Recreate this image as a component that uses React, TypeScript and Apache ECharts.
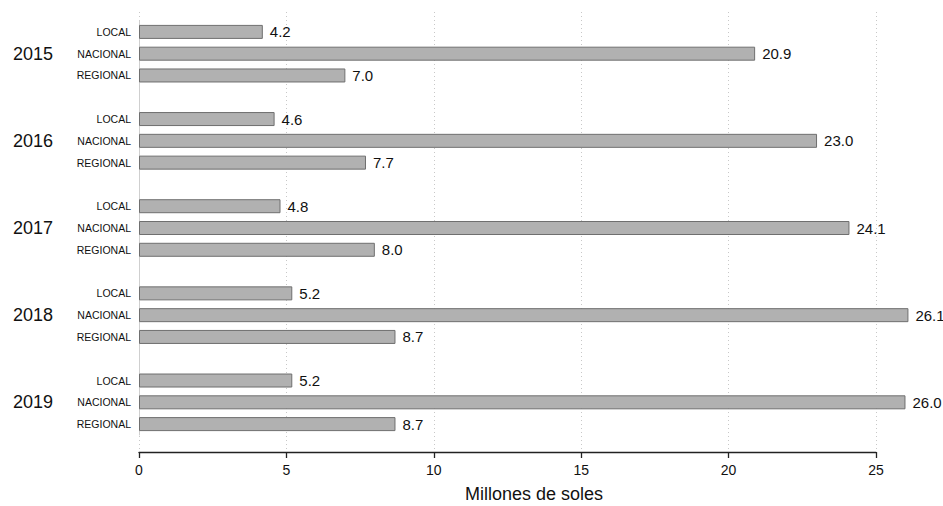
import React, { useEffect, useRef } from "react";
import * as echarts from "echarts";

const years = ["2015", "2016", "2017", "2018", "2019"];
const levels = ["LOCAL", "NACIONAL", "REGIONAL"];
const localValues = [4.2, 4.6, 4.8, 5.2, 5.2];
const nacionalValues = [20.9, 23.0, 24.1, 26.1, 26.0];
const regionalValues = [7.0, 7.7, 8.0, 8.7, 8.7];
const xTickValues = [0, 5, 10, 15, 20, 25];
const axisTitle = "Millones de soles";

const FONT = "'Liberation Sans', Arial, Helvetica, sans-serif";

export default function App() {
  const ref = useRef<HTMLDivElement>(null);

  useEffect(() => {
    document.body.style.margin = "0";
    if (!ref.current) return;
    const chart = echarts.init(ref.current, undefined, { renderer: "svg" });

    const byLevel: Record<string, number[]> = {
      LOCAL: localValues,
      NACIONAL: nacionalValues,
      REGIONAL: regionalValues,
    };
    const cats: string[] = [];
    const vals: (number | string)[] = [];
    years.forEach((y, i) => {
      levels.forEach((l) => {
        cats.push(y + "|" + l);
        vals.push(byLevel[l][i]);
      });
      if (i < years.length - 1) {
        cats.push(y + "|gap");
        vals.push("-");
      }
    });

    const xMin = xTickValues[0];
    const xMax = xTickValues[xTickValues.length - 1];
    const xInterval = xTickValues[1] - xTickValues[0];

    chart.setOption({
      animation: false,
      textStyle: { fontFamily: FONT },
      grid: [
        { left: 139, right: 67, top: 21, bottom: 71 },
        { left: 139, right: 67, top: 12, bottom: 54 },
      ],
      xAxis: [
        { gridIndex: 0, type: "value", min: xMin, max: xMax, show: false },
        {
          gridIndex: 1,
          type: "value",
          min: xMin,
          max: xMax,
          interval: xInterval,
          axisLine: { show: true, lineStyle: { color: "#222", width: 1.3 } },
          axisTick: { show: true, length: 6, lineStyle: { color: "#222", width: 1.3 } },
          axisLabel: { fontSize: 14, color: "#111", margin: 11, fontFamily: FONT },
          splitLine: { show: true, lineStyle: { color: "#c8c8c8", type: [1, 3], width: 1 } },
        },
      ],
      yAxis: [
        {
          gridIndex: 0,
          type: "category",
          data: cats,
          inverse: true,
          offset: 0,
          axisLine: { show: true, lineStyle: { color: "#cfcfcf", width: 1 } },
          axisTick: { show: false },
          splitLine: { show: false },
          axisLabel: {
            interval: 0,
            margin: 8,
            fontSize: 10.5,
            color: "#111",
            fontFamily: FONT,
            formatter: (v: string) => {
              const p = v.split("|");
              return p[1] === "gap" ? "" : p[1];
            },
          },
        },
        {
          gridIndex: 0,
          type: "category",
          data: cats,
          inverse: true,
          position: "left",
          offset: 0,
          axisLine: { show: false },
          axisTick: { show: false },
          splitLine: { show: false },
          axisLabel: {
            interval: 0,
            margin: 86,
            fontSize: 18,
            color: "#111",
            fontFamily: FONT,
            formatter: (v: string) => {
              const p = v.split("|");
              return p[1] === "NACIONAL" ? p[0] : "";
            },
          },
        },
        { gridIndex: 1, type: "value", min: 0, max: 1, show: false },
      ],
      series: [
        {
          type: "bar",
          xAxisIndex: 0,
          yAxisIndex: 0,
          data: vals,
          barWidth: 14,
          clip: false,
          itemStyle: { color: "#b1b1b1", borderColor: "#6f6f6f", borderWidth: 1 },
          label: {
            show: true,
            position: "right",
            distance: 7,
            fontSize: 15,
            color: "#111",
            fontFamily: FONT,
            formatter: (p: any) => Number(p.value).toFixed(1),
          },
        },
      ],
      graphic: [
        {
          type: "text",
          x: 534,
          y: 494,
          style: {
            text: axisTitle,
            fontSize: 18,
            fontFamily: FONT,
            fill: "#111",
            textAlign: "center",
            textVerticalAlign: "middle",
          },
        },
      ],
    });

    return () => chart.dispose();
  }, []);

  return <div ref={ref} style={{ width: 943, height: 506 }} />;
}
